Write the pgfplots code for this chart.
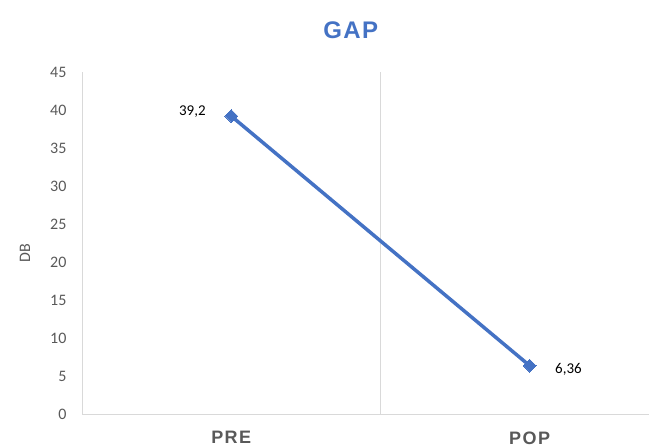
\documentclass[border=0pt]{standalone}
\usepackage{fontspec}
\setmainfont{Carlito}
\newfontfamily\arialfont{Liberation Sans}
\usepackage{pgfplots}
\pgfplotsset{compat=1.18}

\definecolor{lineblue}{HTML}{4472C4}
\definecolor{titleblue}{HTML}{4472C4}
\definecolor{labgray}{HTML}{595959}
\definecolor{axgray}{HTML}{D9D9D9}

\begin{document}
\begin{tikzpicture}
  \begin{axis}[
    name=ax,
    scale only axis,
    width=567pt, height=342pt,
    xmin=-0.5, xmax=1.4,
    ymin=0, ymax=45,
    ytick={0,5,...,45},
    xtick={0,1},
    xticklabels={PRE,POP},
    extra x ticks={0.5},
    extra x tick labels={},
    extra x tick style={grid=major, major grid style={draw=axgray, line width=0.8pt}},
    major tick length=0pt,
    axis x line*=bottom,
    axis y line*=left,
    axis line style={-, draw=axgray, line width=0.8pt},
    /pgf/number format/assume math mode=true,
    yticklabel style={font=\fontsize{16}{18}\selectfont, text=labgray, xshift=-12pt},
    xticklabel style={font=\arialfont\bfseries\addfontfeature{LetterSpace=8}\fontsize{18}{20}\selectfont, text=labgray, yshift=-14pt},
    ylabel={DB},
    ylabel style={font=\fontsize{16}{18}\selectfont, text=labgray, at={(rel axis cs:-0.1005,0.47)}, anchor=center},
    title={GAP},
    title style={font=\arialfont\bfseries\addfontfeature{LetterSpace=6}\fontsize{24}{26}\selectfont, text=titleblue, at={(rel axis cs:0.474,1)}, anchor=center, yshift=36pt},
    clip=false,
  ]
    \addplot[color=lineblue, line width=3.5pt, mark=square*, mark size=4.5pt, mark options={fill=lineblue, line width=0pt, rotate=45}]
      coordinates {(0,39.2) (1,6.36)};
    \addplot[draw=none, nodes near coords, point meta=explicit symbolic,
      nodes near coords style={anchor=east, xshift=-22pt, yshift=4pt, font=\fontsize{15}{17}\selectfont, text=black}]
      coordinates {(0,39.2) [39,2]};
    \addplot[draw=none, nodes near coords, point meta=explicit symbolic,
      nodes near coords style={anchor=west, xshift=22pt, yshift=-4pt, font=\fontsize{15}{17}\selectfont, text=black}]
      coordinates {(1,6.36) [6,36]};
    \coordinate (bl) at (rel axis cs:0,0);
    \coordinate (tr) at (rel axis cs:1,1);
  \end{axis}
  \pgfresetboundingbox
  \path[use as bounding box] ([xshift=-82pt,yshift=-34pt]bl) rectangle ([yshift=72pt]tr);
\end{tikzpicture}
\end{document}
